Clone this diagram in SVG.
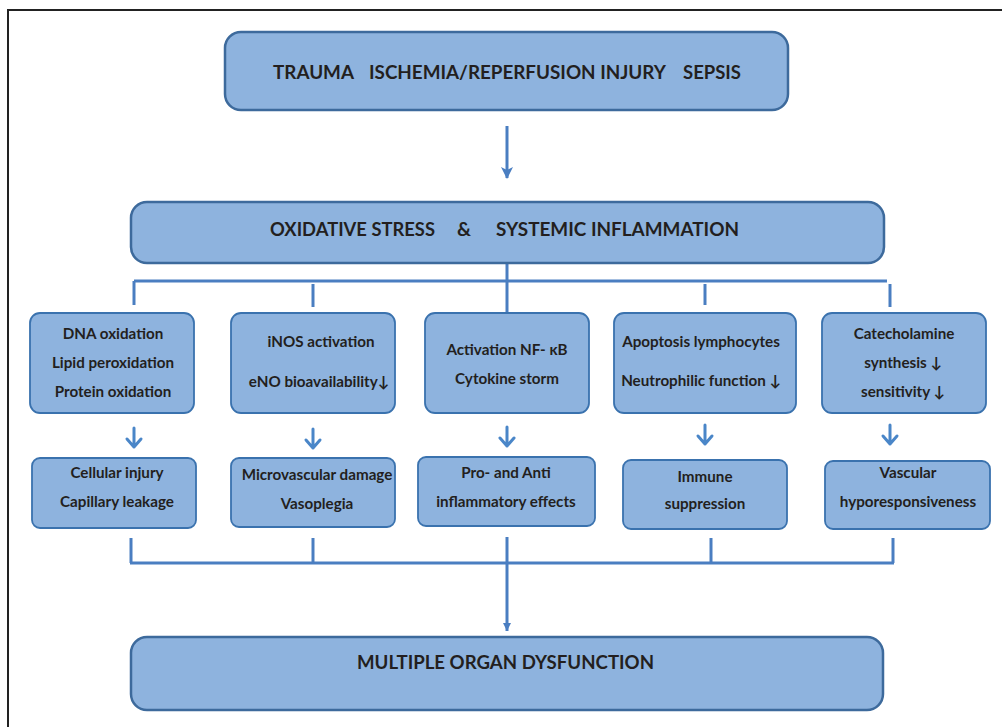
<svg xmlns="http://www.w3.org/2000/svg" width="1002" height="727" viewBox="0 0 1002 727">
<defs>
<marker id="ah" viewBox="0 0 12 12" refX="11" refY="6" markerWidth="12" markerHeight="12" markerUnits="userSpaceOnUse" orient="auto">
<path d="M0,0 L12,6 L0,12 L3,6 z" fill="#4A7EC1"/>
</marker>
<marker id="ah2" viewBox="0 0 10 10" refX="10" refY="5" markerWidth="8" markerHeight="9" markerUnits="userSpaceOnUse" orient="auto">
<path d="M0,0 L10,5 L0,10 z" fill="#4A7EC1"/>
</marker>
</defs>
<style>
.big{fill:#8EB3DE;stroke:#3D6A9C;stroke-width:2.5}
.box{fill:#8EB3DE;stroke:#3A72AE;stroke-width:1.8}
.h{font-family:Lato,"Open Sans",sans-serif;font-weight:bold;font-size:18px;fill:#231F20}
.t{font-family:Lato,"Open Sans",sans-serif;font-weight:bold;font-size:15.2px;fill:#231F20;text-anchor:middle}
.c{stroke:#4A7EC1;stroke-width:3;fill:none}
.s{stroke:#4A86C8;stroke-width:3;fill:none;stroke-linecap:round;stroke-linejoin:round}
</style>
<rect x="8" y="10" width="1000" height="725" fill="none" stroke="#222" stroke-width="2"/>

<g id="connectors">
<line class="c" x1="507" y1="126" x2="507" y2="178" stroke-width="2.5" marker-end="url(#ah)"/>
<line class="c" x1="134" y1="281" x2="887" y2="281"/>
<line class="c" x1="134" y1="281" x2="134" y2="305"/>
<line class="c" x1="313" y1="284" x2="313" y2="307"/>
<line class="c" x1="507" y1="263" x2="507" y2="313"/>
<line class="c" x1="705" y1="284" x2="705" y2="305"/>
<line class="c" x1="890" y1="284" x2="890" y2="307"/>
<path class="s" d="M134,428 V447 M127,439 L134,447 L141,439"/>
<path class="s" d="M313,429 V448 M306,440 L313,448 L320,440"/>
<path class="s" d="M507,427 V446 M500,438 L507,446 L514,438"/>
<path class="s" d="M705,425 V444 M698,436 L705,444 L712,436"/>
<path class="s" d="M890,425 V444 M883,436 L890,444 L897,436"/>
<line class="c" x1="131" y1="538" x2="131" y2="563"/>
<line class="c" x1="313" y1="538" x2="313" y2="563"/>
<line class="c" x1="711" y1="538" x2="711" y2="563"/>
<line class="c" x1="893" y1="538" x2="893" y2="563"/>
<line class="c" x1="130" y1="563" x2="894" y2="563"/>
<line class="c" x1="507" y1="537" x2="507" y2="631" stroke-width="2.5" marker-end="url(#ah2)"/>
</g>

<g id="top">
<rect class="big" x="225" y="32" width="563" height="78" rx="16"/>
<text class="h" y="79"><tspan x="273" textLength="81" lengthAdjust="spacingAndGlyphs">TRAUMA</tspan><tspan x="369" textLength="297" lengthAdjust="spacingAndGlyphs">ISCHEMIA/REPERFUSION INJURY</tspan><tspan x="683" textLength="58" lengthAdjust="spacingAndGlyphs">SEPSIS</tspan></text>
</g>

<g id="oxidative">
<rect class="big" x="131" y="202" width="753" height="61" rx="16" stroke="#3A7DB8"/>
<text class="h" y="236"><tspan x="270" textLength="165" lengthAdjust="spacingAndGlyphs">OXIDATIVE STRESS</tspan><tspan x="457" textLength="14" lengthAdjust="spacingAndGlyphs">&amp;</tspan><tspan x="496" textLength="243" lengthAdjust="spacingAndGlyphs">SYSTEMIC INFLAMMATION</tspan></text>
</g>

<g id="n1">
<rect class="box" x="30" y="313" width="164" height="100" rx="10"/>
<text class="t" x="113" y="339">DNA oxidation</text>
<text class="t" x="113" y="368">Lipid peroxidation</text>
<text class="t" x="113" y="397">Protein oxidation</text>
</g>
<g id="n2">
<rect class="box" x="231" y="313" width="164" height="100" rx="10"/>
<text class="t" x="321" y="347">iNOS activation</text>
<text class="t" x="319" y="387">eNO bioavailability↓</text>
</g>
<g id="n3">
<rect class="box" x="425" y="313" width="164" height="100" rx="10"/>
<text class="t" x="507" y="355">Activation NF- κB</text>
<text class="t" x="507" y="384">Cytokine storm</text>
</g>
<g id="n4">
<rect class="box" x="614" y="313" width="182" height="100" rx="10"/>
<text class="t" x="701" y="347">Apoptosis lymphocytes</text>
<text class="t" x="701" y="386">Neutrophilic function ↓</text>
</g>
<g id="n5">
<rect class="box" x="822" y="313" width="164" height="100" rx="10"/>
<text class="t" x="904" y="339">Catecholamine</text>
<text class="t" x="903" y="368">synthesis ↓</text>
<text class="t" x="903" y="397">sensitivity ↓</text>
</g>

<g id="m1">
<rect class="box" x="32" y="458" width="164" height="70" rx="8"/>
<text class="t" x="117" y="478">Cellular injury</text>
<text class="t" x="117" y="507">Capillary leakage</text>
</g>
<g id="m2">
<rect class="box" x="231" y="458" width="164" height="69" rx="8"/>
<text class="t" x="317" y="480">Microvascular damage</text>
<text class="t" x="317" y="509">Vasoplegia</text>
</g>
<g id="m3">
<rect class="box" x="418" y="457" width="177" height="69" rx="8"/>
<text class="t" x="506" y="478">Pro- and Anti</text>
<text class="t" x="506" y="507">inflammatory effects</text>
</g>
<g id="m4">
<rect class="box" x="623" y="460" width="164" height="69" rx="8"/>
<text class="t" x="705" y="482">Immune</text>
<text class="t" x="705" y="509">suppression</text>
</g>
<g id="m5">
<rect class="box" x="825" y="461" width="165" height="68" rx="8"/>
<text class="t" x="908" y="478">Vascular</text>
<text class="t" x="908" y="507">hyporesponsiveness</text>
</g>

<g id="mod">
<rect class="big" x="131" y="637" width="752" height="73" rx="16" stroke="#2F6A9E"/>
<text class="h" x="357" y="669" textLength="297" lengthAdjust="spacingAndGlyphs">MULTIPLE ORGAN DYSFUNCTION</text>
</g>
</svg>
